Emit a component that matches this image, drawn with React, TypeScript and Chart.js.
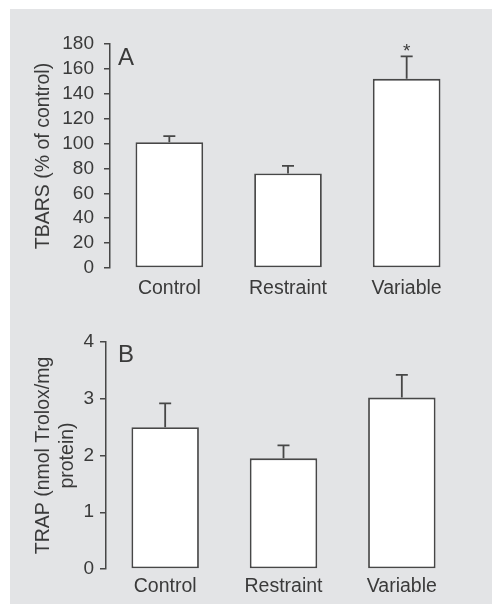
import React, { useEffect, useRef } from "react";
import { Chart, registerables } from "chart.js";

Chart.register(...registerables);

const categories = ["Control", "Restraint", "Variable"];

const tbarsMeans = [101, 76, 152];
const tbarsSem = [5, 6, 18];
const tbarsMarks = ["", "", "*"];
const tbarsTicks = { min: 0, max: 180, step: 20 };

const trapMeans = [2.5, 1.95, 3.02];
const trapSem = [0.42, 0.23, 0.4];
const trapMarks = ["", "", ""];
const trapTicks = { min: 0, max: 4, step: 1 };

const FONT = "'Liberation Sans', Arial, Helvetica, sans-serif";
const INK = "#3a3a3a";
const LINE = "#474747";

type PanelProps = {
  top: number;
  height: number;
  letter: string;
  means: number[];
  sem: number[];
  marks: string[];
  ticks: { min: number; max: number; step: number };
  title: string | string[];
  yWidth: number;
  padTop: number;
  padRight: number;
  xHeight: number;
  xPad: number;
  tickPad: number;
  letterDx: number;
  letterDy: number;
};

function Panel(p: PanelProps) {
  const ref = useRef<HTMLCanvasElement | null>(null);
  useEffect(() => {
    if (!ref.current) return;
    const extras = {
      id: "extras",
      afterDatasetsDraw(chart: any) {
        const ctx = chart.ctx;
        const y = chart.scales.y;
        const meta = chart.getDatasetMeta(0);
        ctx.save();
        ctx.strokeStyle = LINE;
        ctx.lineWidth = 1.8;
        meta.data.forEach((bar: any, i: number) => {
          const yb = y.getPixelForValue(p.means[i]);
          const yt = y.getPixelForValue(p.means[i] + p.sem[i]);
          ctx.beginPath();
          ctx.moveTo(bar.x, yb);
          ctx.lineTo(bar.x, yt);
          ctx.moveTo(bar.x - 6, yt);
          ctx.lineTo(bar.x + 6, yt);
          ctx.stroke();
          if (p.marks[i]) {
            ctx.fillStyle = INK;
            ctx.font = `19px ${FONT}`;
            ctx.textAlign = "center";
            ctx.textBaseline = "alphabetic";
            ctx.fillText(p.marks[i], bar.x, yt + 1);
          }
        });
        const area = chart.chartArea;
        ctx.fillStyle = INK;
        ctx.font = `24px ${FONT}`;
        ctx.textAlign = "left";
        ctx.textBaseline = "alphabetic";
        ctx.fillText(p.letter, area.left + p.letterDx, area.top + p.letterDy);
        ctx.restore();
      },
    };
    const chart = new Chart(ref.current, {
      type: "bar",
      data: {
        labels: categories,
        datasets: [
          {
            data: p.means,
            backgroundColor: "#ffffff",
            borderColor: LINE,
            borderWidth: 1.8,
            borderSkipped: false,
            categoryPercentage: 1,
            barPercentage: 0.57,
          },
        ],
      },
      options: {
        animation: false,
        responsive: false,
        layout: { padding: { top: p.padTop, right: p.padRight, left: 0, bottom: 0 } },
        plugins: { legend: { display: false }, tooltip: { enabled: false } },
        scales: {
          x: {
            grid: { display: false, drawTicks: false },
            border: { display: false },
            ticks: { color: INK, font: { family: FONT, size: 19.5 }, padding: p.xPad },
            afterFit: (s: any) => {
              s.height = p.xHeight;
            },
          },
          y: {
            min: p.ticks.min,
            max: p.ticks.max,
            ticks: {
              stepSize: p.ticks.step,
              autoSkip: false,
              color: INK,
              font: { family: FONT, size: 19 },
              padding: p.tickPad,
            },
            grid: {
              drawOnChartArea: false,
              drawTicks: true,
              tickLength: 6,
              color: LINE,
              lineWidth: 1.5,
            },
            border: { display: true, color: LINE, width: 1.5 },
            title: {
              display: true,
              text: p.title,
              color: INK,
              font: { family: FONT, size: 19.5, lineHeight: 1.23 },
              padding: { top: 32, bottom: 0 },
            },
            afterFit: (s: any) => {
              s.width = p.yWidth;
            },
          },
        },
      },
      plugins: [extras],
    });
    return () => chart.destroy();
  }, []);
  return (
    <canvas
      ref={ref}
      width={492}
      height={p.height}
      style={{ position: "absolute", left: 0, top: p.top, width: 492, height: p.height }}
    />
  );
}

export default function App() {
  return (
    <div
      style={{
        position: "fixed",
        left: 0,
        top: 0,
        width: 492,
        height: 604,
        background: "#ffffff",
        overflow: "hidden",
      }}
    >
      <div
        style={{
          position: "absolute",
          left: 10,
          top: 9,
          width: 482,
          height: 595,
          background: "#e3e4e6",
        }}
      />
      <Panel
        top={0}
        height={300}
        letter="A"
        means={tbarsMeans}
        sem={tbarsSem}
        marks={tbarsMarks}
        ticks={tbarsTicks}
        title="TBARS (% of control)"
        yWidth={110}
        padTop={44}
        padRight={26}
        xHeight={32}
        xPad={9}
        tickPad={10}
        letterDx={8}
        letterDy={21}
      />
      <Panel
        top={300}
        height={304}
        letter="B"
        means={trapMeans}
        sem={trapSem}
        marks={trapMarks}
        ticks={trapTicks}
        title={["TRAP (nmol Trolox/mg", "protein)"]}
        yWidth={106}
        padTop={42}
        padRight={31}
        xHeight={35}
        xPad={6}
        tickPad={6}
        letterDx={12}
        letterDy={20}
      />
    </div>
  );
}
